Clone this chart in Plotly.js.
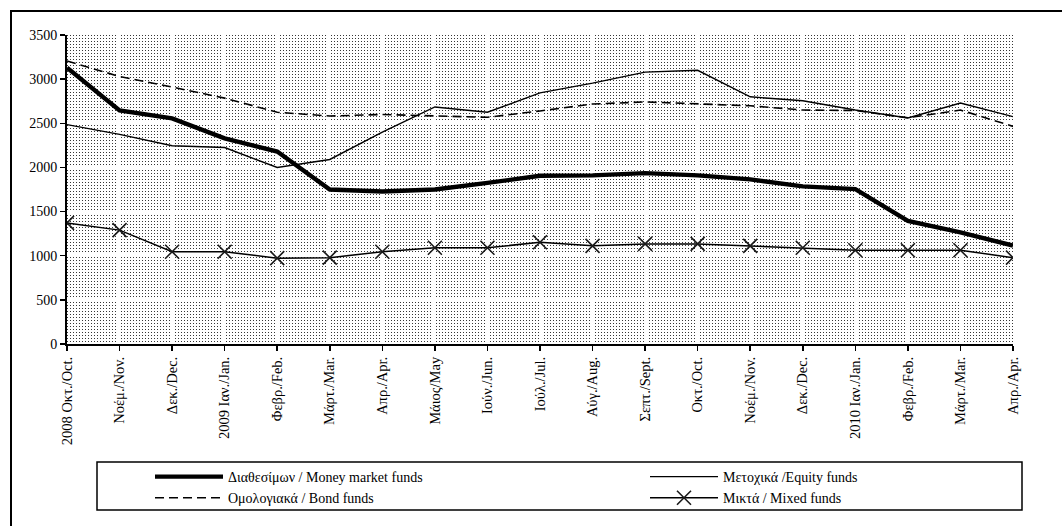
<!DOCTYPE html>
<html>
<head>
<meta charset="utf-8">
<script src="https://cdn.plot.ly/plotly-3.0.1.min.js"></script>
<style>
  html, body { margin: 0; padding: 0; background: #ffffff; overflow: hidden; }
  #chart { width: 1063px; height: 527px; }
</style>
</head>
<body>
<div id="chart"></div>
<script>
// ---- Data ----
const months = [
  "2008 Οκτ./Oct.", "Νοέμ./Nov.", "Δεκ./Dec.", "2009 Ιαν./Jan.", "Φεβρ./Feb.",
  "Μάρτ./Mar.", "Απρ./Apr.", "Μάιος/May", "Ιούν./Jun.", "Ιούλ./Jul.",
  "Αύγ./Aug.", "Σεπτ./Sept.", "Οκτ./Oct.", "Νοέμ./Nov.", "Δεκ./Dec.",
  "2010 Ιαν./Jan.", "Φεβρ./Feb.", "Μάρτ./Mar.", "Απρ./Apr."
];
const moneyMarket = [3130, 2645, 2555, 2330, 2180, 1750, 1728, 1750, 1825, 1905,
                     1910, 1935, 1910, 1865, 1785, 1755, 1395, 1265, 1115];
const equity      = [2485, 2375, 2245, 2225, 2000, 2090, 2400, 2685, 2625, 2845,
                     2955, 3080, 3100, 2800, 2755, 2650, 2560, 2730, 2575];
const bond        = [3205, 3030, 2910, 2785, 2625, 2582, 2600, 2588, 2568, 2640,
                     2718, 2742, 2722, 2698, 2650, 2645, 2562, 2650, 2465];
const mixed       = [1372, 1290, 1045, 1045, 972, 978, 1045, 1090, 1090, 1152,
                     1112, 1134, 1134, 1112, 1090, 1062, 1062, 1062, 978];
const seriesNames = [
  "Διαθεσίμων / Money market funds",
  "Μετοχικά /Equity funds",
  "Ομολογιακά / Bond funds",
  "Μικτά / Mixed funds"
];
const yTicks = [0, 500, 1000, 1500, 2000, 2500, 3000, 3500];

// month positions (the month labels repeat, so the axis uses indices + tick text)
const monthIdx = months.map((m, i) => i);

// ---- Layout geometry ----
const W = 1063, H = 527;
const M = { l: 67, r: 50, t: 35, b: 183, autoexpand: false };
const PW = W - M.l - M.r, PH = H - M.t - M.b;
const px2x = px => (px - M.l) / PW;
const py2y = py => 1 - (py - M.t) / PH;

// dotted background texture for the plot area
const svgPattern =
  "<svg xmlns='http://www.w3.org/2000/svg' width='" + PW + "' height='" + PH + "' shape-rendering='crispEdges'>" +
  "<defs><pattern id='p' width='3' height='3' patternUnits='userSpaceOnUse'>" +
  "<rect width='3' height='3' fill='#ffffff'/>" +
  "<rect x='0' y='0' width='1' height='1' fill='#363636'/>" +
  "</pattern></defs><rect width='100%' height='100%' fill='url(#p)'/></svg>";
const bgUri = "data:image/svg+xml;charset=utf-8," + encodeURIComponent(svgPattern);

const FONT = "Liberation Serif, Times New Roman, serif";

const traces = [
  { x: monthIdx, y: moneyMarket, name: seriesNames[0], type: "scatter", mode: "lines",
    line: { color: "#000000", width: 4.4 }, legend: "legend" },
  { x: monthIdx, y: equity, name: seriesNames[1], type: "scatter", mode: "lines",
    line: { color: "#000000", width: 1.4 }, legend: "legend2" },
  { x: monthIdx, y: bond, name: seriesNames[2], type: "scatter", mode: "lines",
    line: { color: "#000000", width: 1.6, dash: "9px,5px" }, legend: "legend" },
  { x: monthIdx, y: mixed, name: seriesNames[3], type: "scatter", mode: "lines+markers",
    line: { color: "#000000", width: 1.5 },
    marker: { symbol: "x-thin", size: 14, color: "#000000",
              line: { color: "#1a1a1a", width: 1.6 } },
    legend: "legend2" }
];

const layout = {
  width: W, height: H,
  margin: M,
  paper_bgcolor: "#ffffff",
  plot_bgcolor: "#ffffff",
  font: { family: FONT, color: "#000000", size: 13 },
  showlegend: true,
  xaxis: {
    range: [0, months.length - 1],
    tickvals: monthIdx,
    ticktext: months,
    showgrid: true, gridcolor: "#ffffff", gridwidth: 3,
    showline: true, linecolor: "#000000", linewidth: 2,
    ticks: "outside", ticklen: 5, tickwidth: 1.5, tickcolor: "#000000",
    tickangle: -90,
    tickfont: { family: FONT, size: 14.5, color: "#000000" },
    zeroline: false, fixedrange: true
  },
  yaxis: {
    range: [0, 3500],
    tickvals: yTicks,
    ticktext: yTicks.map(String),
    showgrid: true, gridcolor: "#ffffff", gridwidth: 2.5,
    showline: true, linecolor: "#000000", linewidth: 2,
    ticks: "outside", ticklen: 5, tickwidth: 1.5, tickcolor: "#000000",
    tickfont: { family: FONT, size: 14, color: "#000000" },
    zeroline: false, fixedrange: true
  },
  legend: {
    xref: "container", yref: "container",
    x: 150 / W, y: 1 - 461 / H, xanchor: "left", yanchor: "top",
    orientation: "v", bgcolor: "rgba(0,0,0,0)", borderwidth: 0,
    itemwidth: 68, font: { family: FONT, size: 14, color: "#000000" },
    tracegroupgap: 0
  },
  legend2: {
    xref: "container", yref: "container",
    x: 645 / W, y: 1 - 461 / H, xanchor: "left", yanchor: "top",
    orientation: "v", bgcolor: "rgba(0,0,0,0)", borderwidth: 0,
    itemwidth: 68, font: { family: FONT, size: 14, color: "#000000" },
    tracegroupgap: 0
  },
  images: [{
    source: bgUri, xref: "paper", yref: "paper",
    x: 0, y: 1, sizex: 1, sizey: 1, xanchor: "left", yanchor: "top",
    sizing: "stretch", layer: "below"
  }],
  shapes: [
    // outer frame: top edge and left edge (right/bottom edges lie outside the picture)
    { type: "line", xref: "paper", yref: "paper",
      x0: px2x(10), x1: px2x(1062), y0: py2y(11), y1: py2y(11),
      line: { color: "#000000", width: 2 } },
    { type: "line", xref: "paper", yref: "paper",
      x0: px2x(11), x1: px2x(11), y0: py2y(10), y1: py2y(H - 1),
      line: { color: "#000000", width: 2 } },
    // legend frame
    { type: "rect", xref: "paper", yref: "paper",
      x0: px2x(97), x1: px2x(1022), y0: py2y(510), y1: py2y(462),
      line: { color: "#000000", width: 1.5 }, fillcolor: "rgba(0,0,0,0)" }
  ]
};

Plotly.newPlot("chart", traces, layout, { displayModeBar: false, staticPlot: true });
</script>
</body>
</html>
